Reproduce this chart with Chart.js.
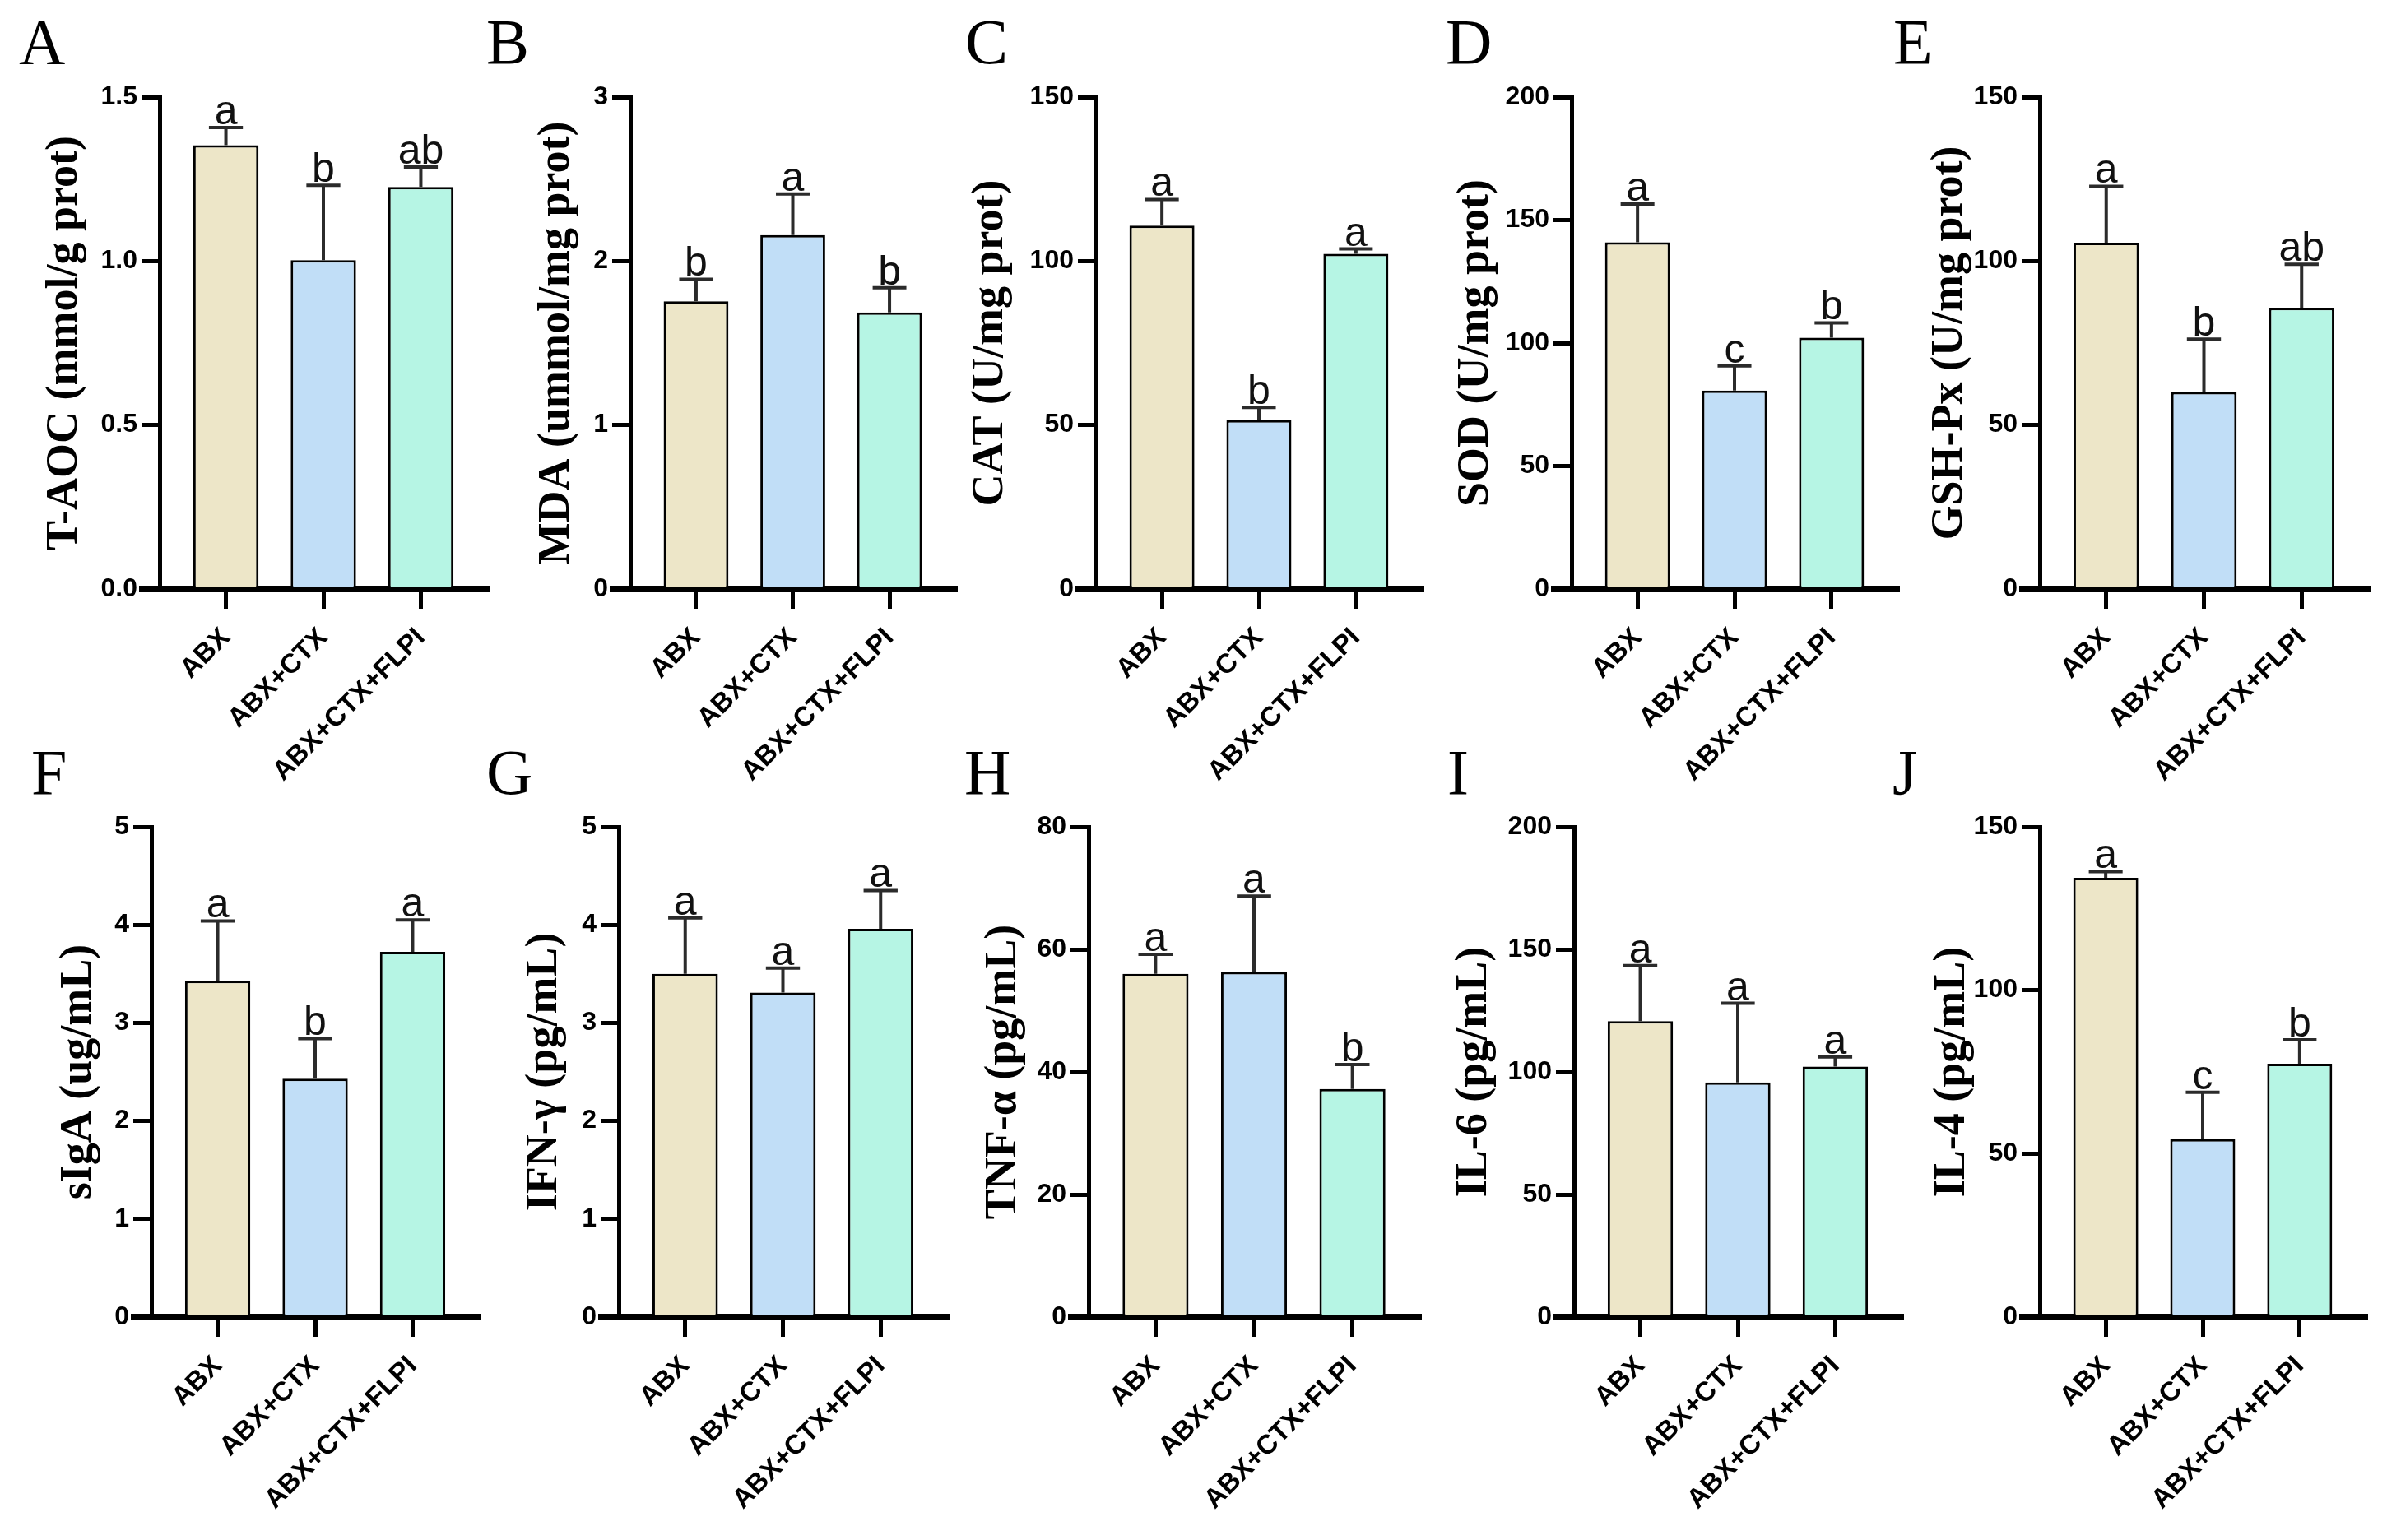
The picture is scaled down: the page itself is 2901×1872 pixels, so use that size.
<!DOCTYPE html>
<html><head><meta charset="utf-8">
<script src="https://cdn.jsdelivr.net/npm/chart.js@4.4.1/dist/chart.umd.min.js"></script>
<style>
html,body{margin:0;padding:0;background:#fff;width:2901px;height:1872px;overflow:hidden;position:relative}
.cell{position:absolute}
.cell canvas{display:block}
</style></head><body>
<script>
// ---------- data ----------
const groups = ['ABX', 'ABX+CTX', 'ABX+CTX+FLPI'];
const panelLetters = ['A','B','C','D','E','F','G','H','I','J'];
const yTitles = ['T-AOC (mmol/g prot)','MDA (ummol/mg prot)','CAT (U/mg prot)','SOD (U/mg prot)','GSH-Px (U/mg prot)',
                 'sIgA (ug/mL)','IFN-\u03B3 (pg/mL)','TNF-\u03B1 (pg/mL)','IL-6 (pg/mL)','IL-4 (pg/mL)'];

const taocMean = [1.353, 1.003, 1.226];  const taocErr = [0.054, 0.228, 0.061];  const taocSig = ['a','b','ab'];
const taocTicks = ['0.0','0.5','1.0','1.5'];
const mdaMean  = [1.754, 2.158, 1.687];  const mdaErr  = [0.135, 0.251, 0.151];  const mdaSig  = ['b','a','b'];
const mdaTicks = ['0','1','2','3'];
const catMean  = [110.8, 51.5, 102.2];   const catErr  = [8.0, 3.9, 1.5];         const catSig  = ['a','b','a'];
const catTicks = ['0','50','100','150'];
const sodMean  = [141.0, 80.7, 102.2];   const sodErr  = [15.5, 10.0, 6.0];       const sodSig  = ['a','c','b'];
const sodTicks = ['0','50','100','150','200'];
const gshMean  = [105.6, 60.1, 85.7];    const gshErr  = [17.2, 16.1, 13.3];      const gshSig  = ['a','b','ab'];
const gshTicks = ['0','50','100','150'];
const sigaMean = [3.43, 2.43, 3.725];    const sigaErr = [0.61, 0.41, 0.325];     const sigaSig = ['a','b','a'];
const sigaTicks = ['0','1','2','3','4','5'];
const ifnMean  = [3.50, 3.31, 3.96];     const ifnErr  = [0.57, 0.25, 0.39];      const ifnSig  = ['a','a','a'];
const ifnTicks = ['0','1','2','3','4','5'];
const tnfMean  = [56.0, 56.3, 37.2];     const tnfErr  = [3.2, 12.4, 4.0];        const tnfSig  = ['a','a','b'];
const tnfTicks = ['0','20','40','60','80'];
const il6Mean  = [120.7, 95.7, 102.2];   const il6Err  = [22.7, 32.3, 3.9];       const il6Sig  = ['a','a','a'];
const il6Ticks = ['0','50','100','150','200'];
const il4Mean  = [134.4, 54.4, 77.5];    const il4Err  = [1.9, 14.35, 7.3];       const il4Sig  = ['a','c','b'];
const il4Ticks = ['0','50','100','150'];

const means = [taocMean, mdaMean, catMean, sodMean, gshMean, sigaMean, ifnMean, tnfMean, il6Mean, il4Mean];
const errs  = [taocErr, mdaErr, catErr, sodErr, gshErr, sigaErr, ifnErr, tnfErr, il6Err, il4Err];
const sigs  = [taocSig, mdaSig, catSig, sodSig, gshSig, sigaSig, ifnSig, tnfSig, il6Sig, il4Sig];
const ticks = [taocTicks, mdaTicks, catTicks, sodTicks, gshTicks, sigaTicks, ifnTicks, tnfTicks, il6Ticks, il4Ticks];

// ---------- layout / style ----------
const barColors = ['#EDE6C8', '#C1DEF7', '#B6F5E4'];
const LAYOUT = [
  {ax:194,  right:592,  row:0, lx:23,   tg:115},
  {ax:766,  right:1161, row:0, lx:591,  tg:89},
  {ax:1332, right:1728, row:0, lx:1173, tg:128},
  {ax:1910, right:2306, row:0, lx:1757, tg:116},
  {ax:2479, right:2878, row:0, lx:2301, tg:109},
  {ax:184,  right:582,  row:1, lx:38,   tg:88},
  {ax:752,  right:1151, row:1, lx:591,  tg:90},
  {ax:1323, right:1725, row:1, lx:1172, tg:103},
  {ax:1913, right:2311, row:1, lx:1759, tg:121},
  {ax:2479, right:2875, row:1, lx:2300, tg:106}
];
const ROW_TOP = [0, 887];
const ROW_H = [960, 985];
const ROW_BOTTOM = [716, 714];
const LETTER_BASE = [77, 78];
const PLOT_TOP = 118;
const SCALE_W = 200;
const TITLE_SIZE = 54;
const SANS = '"Liberation Sans", Arial, sans-serif';
const SERIF = '"Liberation Serif", "Times New Roman", serif';

panelLetters.forEach((letter, i) => {
  const L = LAYOUT[i];
  const plotW = L.right - L.ax;
  const w = SCALE_W + plotW + 14;
  const h = ROW_H[L.row];
  const left = L.ax - SCALE_W;
  const div = document.createElement('div');
  div.className = 'cell';
  div.style.left = left + 'px';
  div.style.top = ROW_TOP[L.row] + 'px';
  div.style.width = w + 'px';
  div.style.height = h + 'px';
  const cv = document.createElement('canvas');
  div.appendChild(cv);
  document.body.appendChild(div);

  const tickLabels = ticks[i];
  const tickVals = tickLabels.map(Number);
  const yMax = tickVals[tickVals.length - 1];
  const m = means[i], e = errs[i], s = sigs[i];

  const panelPlugin = {
    id: 'panel' + i,
    afterDatasetsDraw(chart) {
      const ctx = chart.ctx;
      const ys = chart.scales.y;
      const meta = chart.getDatasetMeta(0);
      ctx.save();
      meta.data.forEach((bar, k) => {
        const x = bar.x;
        const yTop = bar.y;
        const yErr = ys.getPixelForValue(m[k] + e[k]);
        const half = bar.width * 0.26;
        ctx.strokeStyle = '#2b2b2b';
        ctx.lineWidth = 4;
        ctx.lineCap = 'butt';
        ctx.beginPath();
        ctx.moveTo(x, yTop);
        ctx.lineTo(x, yErr);
        ctx.moveTo(x - half, yErr);
        ctx.lineTo(x + half, yErr);
        ctx.stroke();
        ctx.fillStyle = '#111';
        ctx.font = '50px ' + SANS;
        ctx.textAlign = 'center';
        ctx.textBaseline = 'alphabetic';
        ctx.fillText(s[k], x, yErr - 4);
      });
      ctx.restore();
    },
    afterDraw(chart) {
      const ctx = chart.ctx;
      const ca = chart.chartArea;
      ctx.save();
      // x-axis continues left under the y tick marks
      ctx.strokeStyle = '#000';
      ctx.lineWidth = 8;
      ctx.beginPath();
      ctx.moveTo(ca.left - 25, ca.bottom);
      ctx.lineTo(ca.left, ca.bottom);
      ctx.stroke();
      // panel letter
      ctx.fillStyle = '#000';
      ctx.font = '78px ' + SERIF;
      ctx.textAlign = 'left';
      ctx.textBaseline = 'alphabetic';
      ctx.fillText(letter, L.lx - left, LETTER_BASE[L.row]);
      ctx.restore();
    }
  };

  new Chart(cv, {
    type: 'bar',
    data: {
      datasets: [{
        data: m.map((v, k) => ({x: k, y: v})),
        backgroundColor: barColors,
        borderColor: '#000',
        borderWidth: 3,
        barPercentage: 0.67,
        categoryPercentage: 1
      }]
    },
    options: {
      responsive: true,
      maintainAspectRatio: false,
      animation: false,
      events: [],
      layout: {padding: {top: PLOT_TOP, right: 14, left: 0, bottom: 0}},
      plugins: {legend: {display: false}, tooltip: {enabled: false}},
      scales: {
        x: {
          type: 'linear',
          offset: false,
          min: -0.68,
          max: 2.68,
          afterBuildTicks: sc => { sc.ticks = groups.map((g, k) => ({value: k})); },
          afterFit: sc => { sc.height = h - ROW_BOTTOM[L.row]; },
          ticks: {
            autoSkip: false,
            maxRotation: 45,
            minRotation: 45,
            padding: 16,
            color: '#000',
            font: {family: SANS, size: 33, weight: 'bold'},
            callback: v => groups[v]
          },
          grid: {display: true, offset: false, drawOnChartArea: false, drawTicks: true, tickLength: 24,
                 lineWidth: 5, tickWidth: 5, color: '#000', tickColor: '#000'},
          border: {display: true, width: 8, color: '#000'}
        },
        y: {
          type: 'linear',
          min: 0,
          max: yMax,
          afterBuildTicks: sc => { sc.ticks = tickVals.map(v => ({value: v})); },
          afterFit: sc => { sc.width = SCALE_W; },
          ticks: {
            padding: 5,
            color: '#000',
            font: {family: SANS, size: 32, weight: 'bold'},
            callback: (v, idx) => tickLabels[idx]
          },
          grid: {display: true, drawOnChartArea: false, drawTicks: true, tickLength: 22,
                 lineWidth: 5, tickWidth: 5, color: '#000', tickColor: '#000'},
          border: {display: true, width: 5, color: '#000'},
          title: {
            display: true,
            text: yTitles[i],
            color: '#000',
            font: {family: SERIF, size: TITLE_SIZE, weight: 'bold', lineHeight: 1.2},
            padding: {top: SCALE_W - L.tg - TITLE_SIZE * 0.6, bottom: 0}
          }
        }
      }
    },
    plugins: [panelPlugin]
  });
});
</script>
</body></html>
